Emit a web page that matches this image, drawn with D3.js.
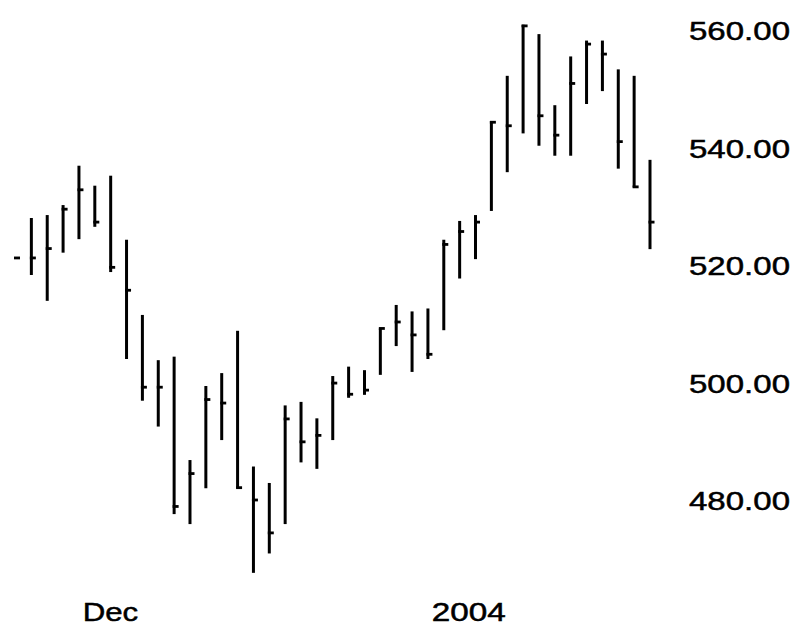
<!DOCTYPE html>
<html>
<head>
<meta charset="utf-8">
<script src="https://cdn.jsdelivr.net/npm/d3@7"></script>
<style>
  body { margin: 0; background: #fff; }
  text { font-family: "Liberation Sans", Arial, sans-serif; fill: #000; stroke: #000; stroke-width: 0.5px; }
</style>
</head>
<body>
<svg id="chart"></svg>
<script>
// trading days, Nov 2003 - Jan 2004
var dates = ["2003-11-20","2003-11-21","2003-11-24","2003-11-25","2003-11-26","2003-11-28",
  "2003-12-01","2003-12-02","2003-12-03","2003-12-04","2003-12-05",
  "2003-12-08","2003-12-09","2003-12-10","2003-12-11","2003-12-12",
  "2003-12-15","2003-12-16","2003-12-17","2003-12-18","2003-12-19",
  "2003-12-22","2003-12-23","2003-12-24","2003-12-26",
  "2003-12-29","2003-12-30","2003-12-31","2004-01-02",
  "2004-01-05","2004-01-06","2004-01-07","2004-01-08","2004-01-09",
  "2004-01-12","2004-01-13","2004-01-14","2004-01-15","2004-01-16",
  "2004-01-20","2004-01-21"];

var highs = [521.3, 528.0, 528.5, 530.2, 536.9, 533.5, 535.2, 524.3, 511.5, 503.8,
  504.4, 486.8, 499.4, 501.6, 508.8, 485.7, 482.9, 496.1, 496.7, 493.9,
  501.1, 502.7, 502.1, 509.2, 513.2, 512.1, 512.6, 524.3, 527.5, 528.5,
  544.5, 552.2, 560.9, 559.3, 547.2, 555.5, 558.2, 558.2, 553.3, 552.2, 537.9];

var lows = [521.2, 518.3, 513.9, 522.1, 524.4, 526.5, 518.8, 504.0, 496.9, 492.5,
  477.6, 475.9, 482.0, 490.2, 482.0, 467.6, 470.9, 475.9, 486.4, 485.3,
  490.2, 497.4, 497.9, 501.3, 506.2, 501.8, 504.0, 508.9, 517.7, 521.0,
  529.2, 535.8, 542.4, 540.3, 538.6, 538.6, 547.4, 549.6, 536.4, 533.2, 522.7];

var closes = [521.2, 521.2, 522.8, 529.5, 532.8, 527.3, 519.6, 515.7, 499.2, 499.2,
  478.9, 484.5, 497.1, 496.5, 482.1, 480.0, 474.4, 493.8, 489.9, 491.0,
  499.9, 498.0, 498.7, 509.2, 510.3, 508.1, 504.8, 523.5, 525.7, 527.3,
  544.3, 543.7, 560.7, 545.4, 542.1, 550.9, 557.6, 555.9, 541.0, 533.3, 527.3];

var yTicks = [480, 500, 520, 540, 560];
var xLabels = [{date: "2003-12-01", text: "Dec"}, {date: "2004-01-02", text: "2004"}];

var width = 797, height = 626;

var svg = d3.select("#chart")
  .attr("width", width)
  .attr("height", height);

var x = d3.scalePoint()
  .domain(dates)
  .range([15.5, 650]);

var y = d3.scaleLinear()
  .domain([480, 560])
  .range([500, 30]);

var data = dates.map(function(d, i) {
  return {date: d, high: highs[i], low: lows[i], close: closes[i]};
});

// high-low bars
svg.selectAll("line.hl")
  .data(data)
  .enter()
  .append("line")
    .attr("class", "hl")
    .attr("x1", function(d) { return x(d.date); })
    .attr("x2", function(d) { return x(d.date); })
    .attr("y1", function(d) { return y(d.high); })
    .attr("y2", function(d) { return y(d.low); })
    .attr("stroke", "#000")
    .attr("stroke-width", 3);

// close ticks on the right
svg.selectAll("line.close")
  .data(data)
  .enter()
  .append("line")
    .attr("class", "close")
    .attr("x1", function(d) { return x(d.date) - 1.5; })
    .attr("x2", function(d) { return x(d.date) + 4.5; })
    .attr("y1", function(d) { return y(d.close); })
    .attr("y2", function(d) { return y(d.close); })
    .attr("stroke", "#000")
    .attr("stroke-width", 2.8);

// y axis labels on the right, no axis line
svg.selectAll("text.ylab")
  .data(yTicks)
  .enter()
  .append("text")
    .attr("class", "ylab")
    .attr("x", 689)
    .attr("y", function(d) { return y(d) + 10; })
    .attr("font-size", "26px")
    .attr("textLength", 101)
    .attr("lengthAdjust", "spacingAndGlyphs")
    .text(function(d) { return d.toFixed(2); });

// x labels
svg.selectAll("text.xlab")
  .data(xLabels)
  .enter()
  .append("text")
    .attr("class", "xlab")
    .attr("x", function(d) { return x(d.date) - 28; })
    .attr("y", 621)
    .attr("font-size", "26px")
    .attr("textLength", function(d) { return d.text.length * 18.5; })
    .attr("lengthAdjust", "spacingAndGlyphs")
    .text(function(d) { return d.text; });
</script>
</body>
</html>
